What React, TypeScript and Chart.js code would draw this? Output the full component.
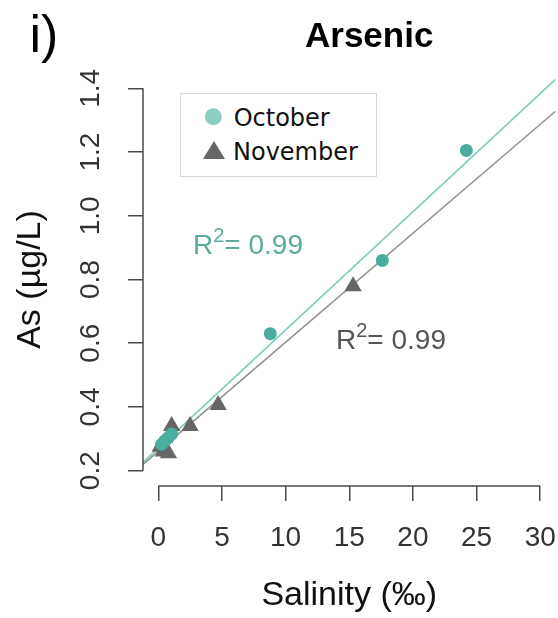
import React, { useEffect, useRef } from 'react';
import { Chart, registerables } from 'chart.js';

Chart.register(...registerables);

// ---- data ----
const xTicks = [0, 5, 10, 15, 20, 25, 30];
const yTicks = [0.2, 0.4, 0.6, 0.8, 1.0, 1.2, 1.4];
const xRange = [-1.2, 31.2];
const yRange = [0.152, 1.448];

const octSalinity = [0.26, 0.52, 0.79, 1.05, 8.8, 17.6, 24.2];
const octArsenic = [0.283, 0.294, 0.304, 0.315, 0.63, 0.86, 1.205];

const novSalinity = [0.15, 0.4, 0.8, 1.05, 2.5, 4.7, 15.3];
const novArsenic = [0.275, 0.26, 0.255, 0.34, 0.34, 0.406, 0.779];

const fitSalinity = [-1.2, 31.2];
const octFitArsenic = [0.226, 1.428];
const novFitArsenic = [0.22, 1.328];

const seriesNames = ['October', 'November'];
const r2Labels = ['0.99', '0.99'];

// ---- styles ----
const TEAL_POINT = '#4aae9f';
const TEAL_LIGHT = '#8dcfc3';
const TEAL_LINE = '#80cbbf';
const TEAL_TEXT = '#5aab9d';
const GRAY_POINT = '#666666';
const GRAY_LINE = '#929292';
const GRAY_TEXT = '#555555';
const AXIS = '#4a4a4a';
const SANS = "'Liberation Sans', Arial, Helvetica, sans-serif";
const DEJAVU = "'DejaVu Sans', Verdana, sans-serif";

const toPts = (xs: number[], ys: number[]) => xs.map((x, i) => ({ x, y: ys[i] }));

const rAxesPlugin = {
  id: 'rAxes',
  afterDraw(chart: any) {
    const { ctx, chartArea, scales } = chart;
    const xs = scales.x;
    const ys = scales.y;
    ctx.save();
    ctx.strokeStyle = AXIS;
    ctx.lineWidth = 1.5;
    ctx.beginPath();
    ctx.moveTo(xs.getPixelForValue(xTicks[0]), chartArea.bottom);
    ctx.lineTo(xs.getPixelForValue(xTicks[xTicks.length - 1]), chartArea.bottom);
    ctx.moveTo(chartArea.left, ys.getPixelForValue(yTicks[0]));
    ctx.lineTo(chartArea.left, ys.getPixelForValue(yTicks[yTicks.length - 1]));
    ctx.stroke();
    ctx.restore();
  },
};

export default function App() {
  const canvasRef = useRef<HTMLCanvasElement | null>(null);

  useEffect(() => {
    if (!canvasRef.current) return;
    const chart = new Chart(canvasRef.current, {
      type: 'scatter',
      data: {
        datasets: [
          {
            label: 'October fit',
            type: 'line',
            data: toPts(fitSalinity, octFitArsenic),
            borderColor: TEAL_LINE,
            borderWidth: 1.6,
            pointRadius: 0,
            showLine: true,
            order: 3,
          } as any,
          {
            label: 'November fit',
            type: 'line',
            data: toPts(fitSalinity, novFitArsenic),
            borderColor: GRAY_LINE,
            borderWidth: 1.6,
            pointRadius: 0,
            showLine: true,
            order: 4,
          } as any,
          {
            label: seriesNames[1],
            data: toPts(novSalinity, novArsenic),
            pointStyle: 'triangle',
            pointRadius: 10,
            backgroundColor: GRAY_POINT,
            borderWidth: 0,
            order: 2,
          },
          {
            label: seriesNames[0],
            data: toPts(octSalinity, octArsenic),
            pointStyle: 'circle',
            pointRadius: 6.5,
            backgroundColor: TEAL_POINT,
            borderWidth: 0,
            order: 1,
          },
        ],
      },
      options: {
        animation: false,
        responsive: false,
        devicePixelRatio: 1,
        layout: { autoPadding: false, padding: { top: 73, right: 2.5, left: 0, bottom: 0 } },
        plugins: {
          legend: { display: false },
          tooltip: { enabled: false },
          title: { display: false },
        },
        scales: {
          x: {
            type: 'linear',
            min: xRange[0],
            max: xRange[1],
            afterBuildTicks: (s: any) => {
              s.ticks = xTicks.map((v) => ({ value: v }));
            },
            afterFit: (s: any) => {
              s.height = 132;
              s.paddingLeft = 0;
              s.paddingRight = 0;
            },
            border: { display: false },
            grid: {
              drawOnChartArea: false,
              drawTicks: true,
              tickLength: 15,
              color: AXIS,
              lineWidth: 1.5,
            },
            ticks: {
              autoSkip: false,
              maxRotation: 0,
              minRotation: 0,
              padding: 20,
              color: '#333333',
              font: { family: SANS, size: 28, lineHeight: 1.2 },
              callback: (v: any) => String(v),
            },
            title: {
              display: true,
              text: 'Salinity (‰)',
              color: '#111111',
              font: { family: SANS, size: 34, lineHeight: 1.2 },
              padding: { top: 0, bottom: 2 },
            },
          },
          y: {
            type: 'linear',
            min: yRange[0],
            max: yRange[1],
            afterBuildTicks: (s: any) => {
              s.ticks = yTicks.map((v) => ({ value: v }));
            },
            afterFit: (s: any) => {
              s.width = 143;
              s.paddingTop = 0;
              s.paddingBottom = 0;
            },
            border: { display: false },
            grid: {
              drawOnChartArea: false,
              drawTicks: true,
              tickLength: 15,
              color: AXIS,
              lineWidth: 1.5,
            },
            ticks: {
              autoSkip: false,
              minRotation: 90,
              maxRotation: 90,
              crossAlign: 'center',
              padding: 17.5,
              color: '#333333',
              font: { family: SANS, size: 28, lineHeight: 1.2 },
              callback: (v: any) => Number(v).toFixed(1),
            },
            title: {
              display: true,
              text: 'As (µg/L)',
              color: '#111111',
              font: { family: SANS, size: 34, lineHeight: 1.2 },
              padding: { top: 10, bottom: 0 },
            },
          },
        },
      },
      plugins: [rAxesPlugin],
    } as any);
    return () => chart.destroy();
  }, []);

  const abs = (extra: React.CSSProperties): React.CSSProperties => ({
    position: 'absolute',
    whiteSpace: 'nowrap',
    lineHeight: 1,
    margin: 0,
    ...extra,
  });

  return (
    <div
      style={{
        position: 'absolute',
        left: 0,
        top: 0,
        width: 558,
        height: 618,
        background: '#ffffff',
        overflow: 'hidden',
      }}
    >
      <canvas
        ref={canvasRef}
        width={558}
        height={618}
        style={{ position: 'absolute', left: 0, top: 0, width: 558, height: 618 }}
      />
      <div style={abs({ left: 29.5, top: 8, fontFamily: SANS, fontSize: 52, color: '#000' })}>i)</div>
      <div
        style={abs({
          left: 305,
          top: 17,
          fontFamily: SANS,
          fontSize: 35,
          fontWeight: 'bold',
          color: '#000',
        })}
      >
        Arsenic
      </div>

      {/* legend */}
      <div
        style={{
          position: 'absolute',
          left: 180,
          top: 93,
          width: 197,
          height: 84,
          boxSizing: 'border-box',
          border: '1px solid #d6d6d6',
          background: '#fff',
        }}
      />
      <svg
        width={558}
        height={618}
        style={{ position: 'absolute', left: 0, top: 0, pointerEvents: 'none' }}
      >
        <circle cx={213.3} cy={116.7} r={8.5} fill={TEAL_LIGHT} />
        <polygon points="214,141 225,159 203,159" fill={GRAY_POINT} />
      </svg>
      <div style={abs({ left: 233.7, top: 105.5, fontFamily: DEJAVU, fontSize: 24, color: '#111' })}>
        {seriesNames[0]}
      </div>
      <div style={abs({ left: 233, top: 140, fontFamily: DEJAVU, fontSize: 24, color: '#111' })}>
        {seriesNames[1]}
      </div>

      {/* R² annotations */}
      <div style={abs({ left: 193, top: 231.3, fontFamily: SANS, fontSize: 28, color: TEAL_TEXT })}>
        R<span style={{ fontSize: 20, position: 'relative', top: -12 }}>2</span>= {r2Labels[0]}
      </div>
      <div style={abs({ left: 336, top: 326.3, fontFamily: SANS, fontSize: 28, color: GRAY_TEXT })}>
        R<span style={{ fontSize: 20, position: 'relative', top: -12 }}>2</span>= {r2Labels[1]}
      </div>
    </div>
  );
}
